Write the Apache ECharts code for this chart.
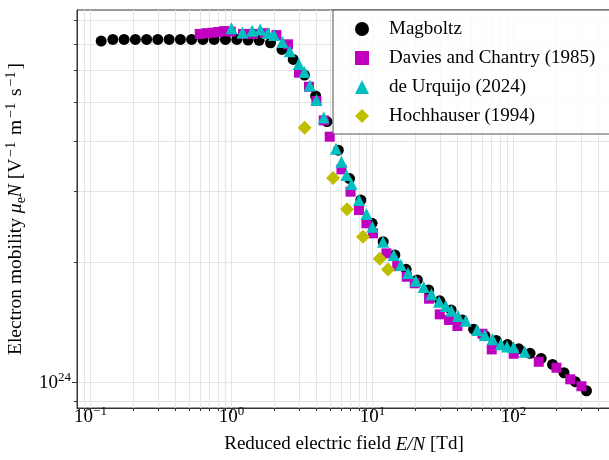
<!DOCTYPE html>
<html>
<head>
<meta charset="utf-8">
<script src="https://cdn.jsdelivr.net/npm/echarts@6.0.0/dist/echarts.min.js"></script>
<style>
html, body { margin: 0; padding: 0; background: #fff; }
#mobility { width: 609px; height: 460px; }
</style>
</head>
<body>
<div id="mobility"></div>
<script>
// E/N in Td, mobility in units of 1e24 V^-1 m^-1 s^-1
const UNIT = 1e24

const magboltzX = [0.119, 0.144, 0.173, 0.208, 0.25, 0.3, 0.361, 0.434, 0.521, 0.627, 0.753, 0.906,
  1.09, 1.31, 1.57, 1.89, 2.28, 2.74, 3.29, 3.95, 4.75, 5.72, 6.87, 8.26, 9.93, 11.9, 14.4, 17.3,
  20.8, 25.0, 30.0, 36.1, 43.4, 52.1, 62.7, 75.3, 90.6, 109, 131, 157, 189, 228, 274, 329]
const magboltzY = [7.11, 7.18, 7.18, 7.18, 7.18, 7.18, 7.18, 7.18, 7.18, 7.18, 7.18, 7.18,
  7.18, 7.15, 7.14, 7.04, 6.78, 6.40, 5.85, 5.19, 4.48, 3.80, 3.23, 2.855, 2.498, 2.247, 2.083, 1.918,
  1.804, 1.703, 1.601, 1.518, 1.433, 1.36, 1.31, 1.275, 1.245, 1.215, 1.184, 1.15, 1.111, 1.059, 1.006, 0.955]

const daviesX = [0.595, 0.664, 0.732, 0.802, 0.885, 0.987, 1.207, 1.42, 1.72, 2.08, 2.516, 3.011,
  3.545, 4.0, 4.507, 4.97, 6.02, 6.98, 8.02, 9.05, 10.08, 12.55, 14.96, 17.48, 19.92, 25.16,
  29.97, 34.88, 40.0, 60.2, 70.04, 100.3, 150.9, 201.5, 252.4, 303]
const daviesY = [7.41, 7.44, 7.46, 7.49, 7.53, 7.51, 7.41, 7.41, 7.44, 7.36, 6.98, 5.93,
  5.47, 5.04, 4.51, 4.107, 3.405, 2.995, 2.696, 2.498, 2.358, 2.102, 1.954, 1.838, 1.77, 1.62,
  1.481, 1.434, 1.385, 1.325, 1.211, 1.181, 1.128, 1.09, 1.02, 0.98]

const urquijoX = [1.0, 1.195, 1.402, 1.598, 1.806, 2.002, 2.296, 2.587, 2.997, 3.289, 3.586, 4.0,
  4.507, 5.51, 6.02, 6.53, 7.09, 8.02, 9.05, 9.98, 11.87, 14.14, 15.85, 17.86, 20.25, 23.07,
  26.17, 29.63, 33.04, 36.27, 40.42, 45.8, 55.1, 62.5, 70.9, 81.2, 89.9, 100, 120]
const urquijoY = [7.65, 7.47, 7.55, 7.60, 7.45, 7.36, 7.07, 6.71, 6.23, 5.95, 5.51, 5.07,
  4.585, 3.83, 3.557, 3.296, 3.13, 2.855, 2.635, 2.449, 2.247, 2.083, 1.966, 1.878, 1.796, 1.733,
  1.661, 1.592, 1.553, 1.512, 1.466, 1.428, 1.353, 1.315, 1.283, 1.247, 1.231, 1.226, 1.195]

const hochX = [3.30, 5.25, 6.59, 8.56, 11.25, 12.88]
const hochY = [4.324, 3.239, 2.706, 2.313, 2.038, 1.916]

// ticks
const xMajor = [0.1, 1, 10, 100]
const xMinor = [0.09, 0.2, 0.3, 0.4, 0.5, 0.6, 0.7, 0.8, 0.9, 2, 3, 4, 5, 6, 7, 8, 9,
  20, 30, 40, 50, 60, 70, 80, 90, 200, 300, 400]
const yMajor = [1]
const yMinor = [0.9, 2, 3, 4, 5, 6, 7, 8]

const FONT = 'Liberation Serif'
const pairs = (xs, ys) => xs.map((x, i) => [x, ys[i] * UNIT])
const sup = v => {
  const e = Math.round(Math.log10(v))
  return '10{sup|' + (e < 0 ? '\u2212' + (-e) : e) + '}'
}
const labelRich = {
  sup: { fontFamily: FONT, fontSize: 13, color: '#000', verticalAlign: 'top', lineHeight: 13 }
}
const gridColor = '#e4e4e4'

const chart = echarts.init(document.getElementById('mobility'))
const option = {
  animation: false,
  backgroundColor: '#fff',
  grid: {
    left: 77, right: -2, top: 10, bottom: 52,
    outerBoundsMode: 'none',
    containLabel: false,
    show: true, borderColor: '#333', borderWidth: 1, backgroundColor: 'transparent'
  },
  legend: {
    orient: 'vertical',
    left: 333,
    top: 10,
    padding: [9, 40, 8, 22],
    itemWidth: 14,
    itemHeight: 14,
    itemGap: 9,
    backgroundColor: 'rgba(255,255,255,0.8)',
    borderColor: '#555',
    borderWidth: 1,
    textStyle: { fontFamily: FONT, fontSize: 19, color: '#000', lineHeight: 20, padding: [0, 0, 0, 15] },
    data: ['Magboltz', 'Davies and Chantry (1985)', 'de Urquijo (2024)', 'Hochhauser (1994)']
  },
  xAxis: [{
    type: 'log',
    min: 0.0802,
    max: 491,
    name: '{a|Reduced electric field }{i|E/N}{a| [Td]}',
    nameLocation: 'middle',
    nameGap: 27,
    nameTextStyle: {
      rich: {
        a: { fontFamily: FONT, fontSize: 19, color: '#000' },
        i: { fontFamily: FONT, fontSize: 19, color: '#000', fontStyle: 'italic' }
      }
    },
    axisLine: { lineStyle: { color: '#333', width: 1 } },
    axisTick: { customValues: xMajor, length: 5, lineStyle: { color: '#333' } },
    axisLabel: {
      customValues: xMajor,
      formatter: sup,
      margin: -3,
      fontFamily: FONT,
      fontSize: 19,
      color: '#000',
      lineHeight: 24,
      rich: labelRich
    },
    splitLine: { show: true, lineStyle: { color: gridColor, width: 1 } }
  }, {
    type: 'log',
    min: 0.0802,
    max: 491,
    position: 'bottom',
    axisLine: { show: false },
    axisTick: { customValues: xMinor, length: 3, lineStyle: { color: '#333' } },
    axisLabel: { show: false },
    splitLine: { show: true, lineStyle: { color: gridColor, width: 1 } }
  }],
  yAxis: [{
    type: 'log',
    min: 0.865 * UNIT,
    max: 8.5 * UNIT,
    name: '{a|Electron mobility }{i|\u03bc}{sub|e}{i|N}{a| [V}{sup|\u22121}{a| m}{sup|\u22121}{a| s}{sup|\u22121}{a|]}',
    nameLocation: 'middle',
    nameGap: 41,
    nameRotate: 90,
    nameTextStyle: {
      rich: {
        a: { fontFamily: FONT, fontSize: 19.5, color: '#000', lineHeight: 24 },
        i: { fontFamily: FONT, fontSize: 19.5, color: '#000', fontStyle: 'italic', lineHeight: 24 },
        sub: { fontFamily: FONT, fontSize: 14, color: '#000', verticalAlign: 'bottom', lineHeight: 14 },
        sup: { fontFamily: FONT, fontSize: 14, color: '#000', verticalAlign: 'top', lineHeight: 14, padding: [0, 2, 0, 2] }
      }
    },
    axisLine: { lineStyle: { color: '#333', width: 1 } },
    axisTick: { customValues: yMajor.map(v => v * UNIT), length: 5, lineStyle: { color: '#333' } },
    axisLabel: {
      customValues: yMajor.map(v => v * UNIT),
      formatter: sup,
      margin: 6,
      fontFamily: FONT,
      fontSize: 19,
      color: '#000',
      lineHeight: 24,
      rich: labelRich
    },
    splitLine: { show: true, lineStyle: { color: gridColor, width: 1 } }
  }, {
    type: 'log',
    min: 0.865 * UNIT,
    max: 8.5 * UNIT,
    position: 'left',
    axisLine: { show: false },
    axisTick: { customValues: yMinor.map(v => v * UNIT), length: 3, lineStyle: { color: '#333' } },
    axisLabel: { show: false },
    splitLine: { show: true, lineStyle: { color: gridColor, width: 1 } }
  }],
  series: [{
    name: 'Magboltz',
    type: 'scatter',
    symbol: 'circle',
    symbolSize: 11,
    itemStyle: { color: '#000', opacity: 1 },
    data: pairs(magboltzX, magboltzY)
  }, {
    name: 'Davies and Chantry (1985)',
    type: 'scatter',
    symbol: 'rect',
    symbolSize: 10,
    itemStyle: { color: '#bf00bf', opacity: 1 },
    data: pairs(daviesX, daviesY)
  }, {
    name: 'de Urquijo (2024)',
    type: 'scatter',
    symbol: 'triangle',
    symbolSize: 12,
    itemStyle: { color: '#00bfbf', opacity: 1 },
    data: pairs(urquijoX, urquijoY)
  }, {
    name: 'Hochhauser (1994)',
    type: 'scatter',
    symbol: 'diamond',
    symbolSize: 14,
    itemStyle: { color: '#bfbf00', opacity: 1 },
    data: pairs(hochX, hochY)
  }]
}
chart.setOption(option)
</script>
</body>
</html>
